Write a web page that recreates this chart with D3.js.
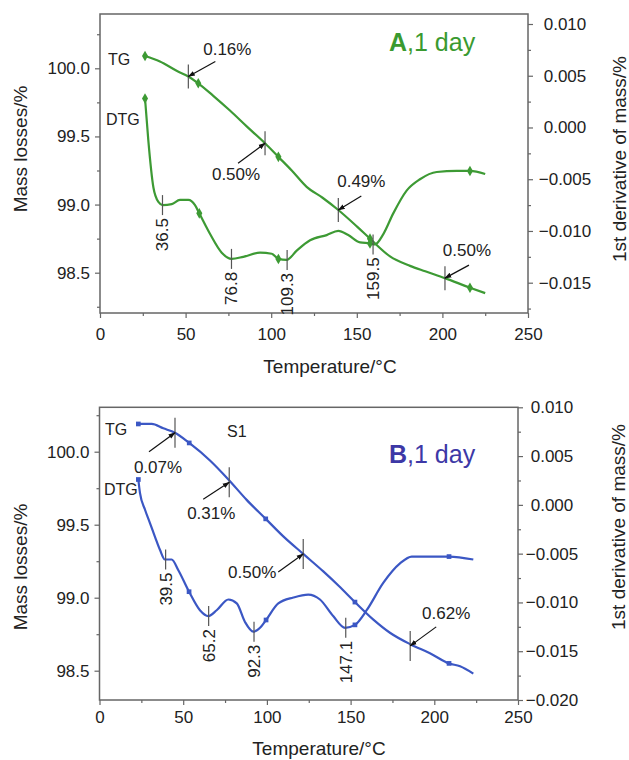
<!DOCTYPE html>
<html lang="en">
<head>
<meta charset="utf-8">
<title>TG / DTG curves, 1 day</title>
<script src="https://cdn.jsdelivr.net/npm/d3@7/dist/d3.min.js"></script>
<style>
  body { margin: 0; background: #fff; }
  svg text { font-family: "Liberation Sans", Arial, sans-serif; fill: #222; }
  .axis path { display: none; }
  .axis line { stroke: #666; stroke-width: 1.2; }
</style>
</head>
<body>
<svg id="chart" width="629" height="760"></svg>
<script>
// temperature axis (both panels)
var tempTicks = [0, 50, 100, 150, 200, 250];
var tempMinor = [25, 75, 125, 175, 225];
var massTicks = [98.5, 99.0, 99.5, 100.0];
var massMinor = [98.25, 98.75, 99.25, 99.75, 100.25];

// ---- panel A, 1 day (green) ----
var derivTicksA = [-0.015, -0.010, -0.005, 0.000, 0.005, 0.010];
var derivMinorA = [-0.0175, -0.0125, -0.0075, -0.0025, 0.0025, 0.0075];

// [temperature, mass %]
var tgA = [[26.3,100.09],[35,100.05],[45,99.98],[51.6,99.94],[57.4,99.89],[66,99.80],[75.9,99.69],
  [86,99.57],[96.4,99.45],[104.2,99.35],[112,99.25],[120.7,99.13],[130,99.05],[139.2,98.96],
  [150,98.84],[157.7,98.75],[169.4,98.62],[181.1,98.55],[190,98.51],[201.5,98.46],[216.1,98.39],[225,98.35]];
// [temperature, 1st derivative]
var dtgA = [[26.3,0.0028],[28.2,-0.0012],[31.2,-0.0058],[34.1,-0.0072],[36.6,-0.0075],[41.9,-0.0074],
  [46.7,-0.0070],[51.6,-0.0070],[55.5,-0.0075],[58.0,-0.0083],[64.3,-0.0103],[71.1,-0.0121],
  [76.9,-0.0127],[83.7,-0.0125],[93.5,-0.0121],[100.3,-0.0122],[104.2,-0.0127],[109.0,-0.0128],
  [114.9,-0.0119],[122.7,-0.0109],[132.4,-0.0104],[139.2,-0.0100],[145.0,-0.0104],[151.9,-0.0111],
  [157.7,-0.0112],[160.6,-0.0113],[165.5,-0.0103],[171.3,-0.0083],[179.1,-0.0061],[186.9,-0.0050],
  [196.7,-0.0043],[208.4,-0.0042],[216.1,-0.0042],[225.0,-0.0045]];
var marksTgA = [26.3, 57.4, 104.2, 157.7, 216.1];
var marksDtgA = [26.3, 58.0, 104.2, 157.7, 216.1];
var peaksA = [[36.5,-0.0075,"36.5"],[76.8,-0.0127,"76.8"],[109.3,-0.0128,"109.3"],[159.5,-0.0113,"159.5"]];
var lossA = [[51.6,99.94,"0.16%"],[96.4,99.45,"0.50%"],[139.2,98.96,"0.49%"],[201.5,98.46,"0.50%"]];

// ---- panel B, 1 day (blue) ----
var derivTicksB = [-0.020, -0.015, -0.010, -0.005, 0.000, 0.005, 0.010];
var derivMinorB = [-0.0175, -0.0125, -0.0075, -0.0025, 0.0025, 0.0075];

var tgB = [[23.2,100.19],[31.2,100.19],[38.1,100.16],[45.1,100.13],[53.6,100.06],[66,99.94],[77,99.81],
  [87.9,99.67],[99.3,99.54],[109.8,99.42],[121.7,99.30],[133.7,99.18],[143,99.08],[152.6,98.97],[163.6,98.85],
  [173.5,98.76],[185.9,98.68],[197.4,98.62],[208.8,98.55],[215.4,98.53],[223.3,98.48]];
var dtgB = [[23.2,0.0026],[24.2,0.0012],[27.2,-0.0005],[30.2,-0.0019],[33.2,-0.0033],[36.1,-0.0046],
  [39.1,-0.0056],[43.1,-0.0056],[47.1,-0.0067],[53.5,-0.0089],[60,-0.0108],[65,-0.0114],[70,-0.0108],
  [77,-0.0097],[82,-0.0101],[86.9,-0.0120],[91.9,-0.0130],[95.9,-0.0126],[99.5,-0.0118],[106.8,-0.0101],
  [115.8,-0.0095],[124.7,-0.0092],[131.7,-0.0097],[139.6,-0.0114],[146.7,-0.0126],[152.6,-0.0123],
  [159.6,-0.0108],[169.5,-0.0080],[179.5,-0.0060],[186.5,-0.0053],[197.4,-0.0053],[208.8,-0.0053],[223.3,-0.0056]];
var marksTgB = [23.2, 53.6, 99.3, 152.6, 208.8];
var marksDtgB = [23.2, 53.5, 99.5, 152.6, 208.8];
var peaksB = [[39.5,-0.0056,"39.5"],[65.2,-0.0114,"65.2"],[92.3,-0.0130,"92.3"],[147.1,-0.0126,"147.1"]];
var lossB = [[45.1,100.13,"0.07%"],[77.5,99.79,"0.31%"],[121.7,99.30,"0.50%"],[185.6,98.67,"0.62%"]];

var svg = d3.select("#chart");

svg.append("defs").append("marker")
  .attr("id", "arrow")
  .attr("viewBox", "0 0 10 10")
  .attr("refX", 9).attr("refY", 5)
  .attr("markerWidth", 6).attr("markerHeight", 6)
  .attr("orient", "auto")
  .append("path").attr("d", "M0,1.5L10,5L0,8.5z").attr("fill", "#111");

function drawPanel(p) {
  var x = d3.scaleLinear().domain([0, 250]).range([p.left, p.right]);
  var yL = d3.scaleLinear().domain([98.5, 100]).range(p.massRange);
  var yR = d3.scaleLinear().domain(p.derivDomain).range(p.derivRange);

  var g = svg.append("g");

  // frame
  g.append("rect")
    .attr("x", p.left).attr("y", p.top)
    .attr("width", p.right - p.left).attr("height", p.bottom - p.top)
    .attr("fill", "none").attr("stroke", "#666").attr("stroke-width", 1.5);

  // x axis
  var ax = g.append("g").attr("class", "axis").attr("transform", "translate(0," + p.bottom + ")")
    .call(d3.axisBottom(x).tickValues(tempTicks).tickSize(5).tickPadding(p.xPad).tickFormat(d3.format("d")));
  ax.selectAll("text").attr("font-size", 17).attr("fill", "#222");
  g.append("g").attr("class", "axis").attr("transform", "translate(0," + p.bottom + ")")
    .call(d3.axisBottom(x).tickValues(tempMinor).tickSize(3).tickFormat(""));

  // left axis
  var al = g.append("g").attr("class", "axis").attr("transform", "translate(" + p.left + ",0)")
    .call(d3.axisLeft(yL).tickValues(massTicks).tickSize(5).tickPadding(5).tickFormat(d3.format(".1f")));
  al.selectAll("text").attr("font-size", 17).attr("fill", "#222");
  g.append("g").attr("class", "axis").attr("transform", "translate(" + p.left + ",0)")
    .call(d3.axisLeft(yL).tickValues(massMinor.filter(function(v){ return yL(v) >= p.top - 1 && yL(v) <= p.bottom; }))
      .tickSize(3).tickFormat(""));

  // right axis
  var ar = g.append("g").attr("class", "axis").attr("transform", "translate(" + p.right + ",0)")
    .call(d3.axisRight(yR).tickValues(p.derivTicks).tickSize(5).tickFormat(d3.format(".3f")));
  ar.selectAll("text").attr("font-size", 17).attr("fill", "#222")
    .attr("text-anchor", "middle").attr("x", p.rLabelX);
  g.append("g").attr("class", "axis").attr("transform", "translate(" + p.right + ",0)")
    .call(d3.axisRight(yR).tickValues(p.derivMinor).tickSize(3).tickFormat(""));

  // axis titles
  g.append("text").attr("x", p.xTitleX).attr("y", p.xTitleY)
    .attr("text-anchor", "middle").attr("font-size", 19).text("Temperature/\u00b0C");
  g.append("text").attr("transform", "translate(" + p.lTitleX + "," + p.lTitleY + ") rotate(-90)")
    .attr("text-anchor", "middle").attr("dy", "0.35em").attr("font-size", 19).text("Mass losses/%");
  g.append("text").attr("transform", "translate(" + p.rTitleX + "," + p.rTitleY + ") rotate(-90)")
    .attr("text-anchor", "middle").attr("dy", "0.35em").attr("font-size", 19).text("1st derivative of mass/%");

  // curves
  var lineL = d3.line().x(function(d){ return x(d[0]); }).y(function(d){ return yL(d[1]); }).curve(d3.curveMonotoneX);
  var lineR = d3.line().x(function(d){ return x(d[0]); }).y(function(d){ return yR(d[1]); }).curve(d3.curveMonotoneX);
  g.append("path").datum(p.tg).attr("d", lineL).attr("fill", "none").attr("stroke", p.color).attr("stroke-width", 2.2);
  g.append("path").datum(p.dtg).attr("d", lineR).attr("fill", "none").attr("stroke", p.color).attr("stroke-width", 2.2);

  var sym = d3.symbol().type(p.symbol).size(p.symbolSize);
  g.selectAll(".mtg").data(p.tg.filter(function(d){ return p.marksTg.indexOf(d[0]) >= 0; }))
    .enter().append("path").attr("d", sym).attr("fill", p.color)
    .attr("transform", function(d){ return "translate(" + x(d[0]) + "," + yL(d[1]) + ")"; });
  g.selectAll(".mdtg").data(p.dtg.filter(function(d){ return p.marksDtg.indexOf(d[0]) >= 0; }))
    .enter().append("path").attr("d", sym).attr("fill", p.color)
    .attr("transform", function(d){ return "translate(" + x(d[0]) + "," + yR(d[1]) + ")"; });

  // DTG peak temperatures
  p.peaks.forEach(function(d) {
    var px = x(d[0]), py = yR(d[1]);
    g.append("line").attr("x1", px).attr("x2", px).attr("y1", py - 10).attr("y2", py + 10)
      .attr("stroke", "#555").attr("stroke-width", 1.2);
    g.append("text").attr("transform", "translate(" + px + "," + (py + 13) + ") rotate(-90)")
      .attr("text-anchor", "end").attr("dy", "0.35em").attr("font-size", 17).text(d[2]);
  });

  // mass loss steps on TG
  p.loss.forEach(function(d, i) {
    var px = x(d[0]), py = yL(d[1]), o = p.lossPos[i];
    g.append("line").attr("x1", px).attr("x2", px).attr("y1", py - p.crossH).attr("y2", py + p.crossH)
      .attr("stroke", "#555").attr("stroke-width", 1.2);
    g.append("line").attr("x1", px + o[0]).attr("y1", py + o[1]).attr("x2", px).attr("y2", py)
      .attr("stroke", "#111").attr("stroke-width", 1.2).attr("marker-end", "url(#arrow)");
    g.append("text").attr("x", px + o[2]).attr("y", py + o[3])
      .attr("text-anchor", "middle").attr("font-size", 17).text(d[2]);
  });

  // curve names and panel title
  p.names.forEach(function(n) {
    g.append("text").attr("x", n[1]).attr("y", n[2]).attr("font-size", 16).text(n[0]);
  });
  var t = g.append("text").attr("x", p.titleX).attr("y", p.titleY).attr("font-size", 25);
  t.append("tspan").attr("font-weight", "bold").attr("fill", p.titleColor).text(p.titleLetter);
  t.append("tspan").attr("fill", p.titleColor).text(",1 day");
}

drawPanel({
  left: 100, right: 528, top: 14, bottom: 313,
  massRange: [272.7, 68.3],
  derivDomain: [-0.015, 0.010], derivRange: [282.7, 24],
  derivTicks: derivTicksA, derivMinor: derivMinorA,
  xPad: 10, rLabelX: 37,
  xTitleX: 330, xTitleY: 373, lTitleX: 20, lTitleY: 149, rTitleX: 619, rTitleY: 159,
  tg: tgA, dtg: dtgA, marksTg: marksTgA, marksDtg: marksDtgA,
  symbol: d3.symbolDiamond, symbolSize: 32,
  peaks: peaksA, loss: lossA, crossH: 12,
  lossPos: [[27,-15,39,-21],[-27,20,-29,37],[23,-14,23,-23],[24,-13,22,-22]],
  names: [["TG",108,65],["DTG",106,125]],
  color: "#3d9a34", titleColor: "#3a9a30", titleLetter: "A", titleX: 389, titleY: 51
});

drawPanel({
  left: 99.5, right: 518, top: 407.3, bottom: 700,
  massRange: [670.7, 451.7],
  derivDomain: [-0.020, 0.010], derivRange: [700, 407.3],
  derivTicks: derivTicksB, derivMinor: derivMinorB,
  xPad: 6, rLabelX: 34,
  xTitleX: 319, xTitleY: 755, lTitleX: 20, lTitleY: 567, rTitleX: 618, rTitleY: 527,
  tg: tgB, dtg: dtgB, marksTg: marksTgB, marksDtg: marksDtgB,
  symbol: d3.symbolSquare, symbolSize: 22,
  peaks: peaksB, loss: lossB, crossH: 15,
  lossPos: [[-26,19,-17,40],[-26,17,-18,37],[-25,18,-51,24],[26,-19,36,-27]],
  names: [["TG",105,435],["S1",227,437],["DTG",104,495]],
  color: "#3b57c4", titleColor: "#3d38a6", titleLetter: "B", titleX: 389, titleY: 463
});
</script>
</body>
</html>
